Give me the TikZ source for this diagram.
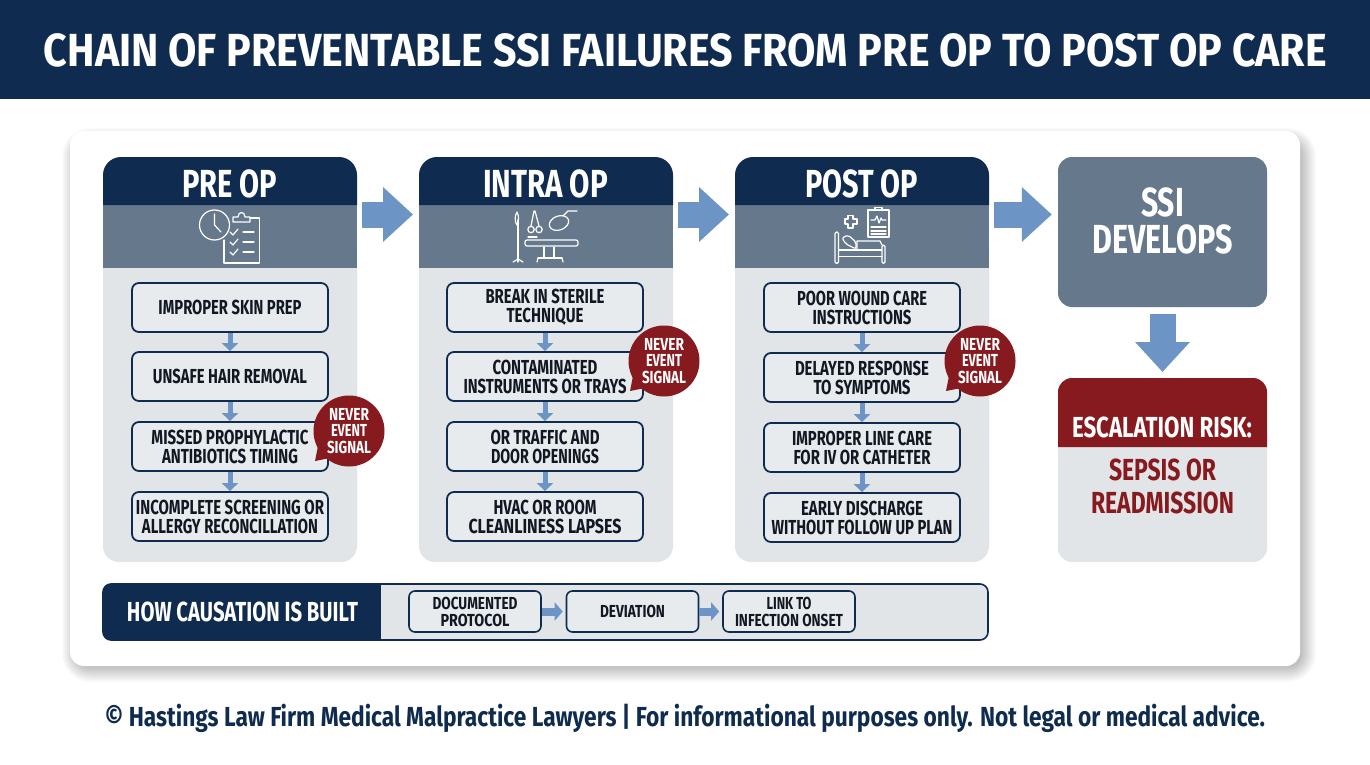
\documentclass[tikz,border=0pt]{standalone}
\usepackage{fontspec}
\usepackage{graphicx}
\setmainfont{Fira Sans}
\usetikzlibrary{arrows.meta}
\definecolor{navy}{HTML}{0F2C50}
\definecolor{band}{HTML}{66788C}
\definecolor{pale}{HTML}{E1E5E8}
\definecolor{boxfill}{HTML}{E8EBEE}
\definecolor{flow}{HTML}{6C95C5}
\definecolor{crimson}{HTML}{871A1E}
\definecolor{ink}{HTML}{111822}
% width, cap height, text: one line set to the measured width
\newcommand\tl[3]{\resizebox{#1pt}{\height}{\fontsize{\fpeval{#2*1.45}pt}{\fpeval{#2*1.6}pt}\selectfont\bfseries #3}}
% left, top, right, bottom, radius: a panel with rounded top corners only
\newcommand\toppanel[6]{\fill[#1] (#2,#5) -- (#2,#3+#6) .. controls (#2,#3+.45*#6) and (#2+.45*#6,#3) .. (#2+#6,#3) -- (#4-#6,#3) .. controls (#4-.45*#6,#3) and (#4,#3+.45*#6) .. (#4,#3+#6) -- (#4,#5) -- cycle;}
\tikzset{
  itembox/.style={draw=navy,line width=1.8pt,fill=boxfill,rounded corners=7pt,minimum width=196pt,minimum height=49pt,inner sep=0pt,text=ink,align=center,font=\fontsize{14pt}{19pt}\selectfont},
  smallbox/.style={draw=navy,line width=1.6pt,fill=boxfill,rounded corners=6pt,minimum width=132pt,minimum height=41pt,inner sep=0pt,text=ink,align=center,font=\fontsize{12pt}{17pt}\selectfont},
  bubble/.style={circle,fill=crimson,minimum size=71pt,inner sep=0pt,text=white,align=center,font=\fontsize{12pt}{16.5pt}\selectfont},
  bigarrow/.style={draw=flow,line width=26pt,-{Triangle[length=30pt,width=53pt]}},
  itemarrow/.style={draw=flow,line width=5pt,-{Triangle[length=8pt,width=16pt]}},
  bararrow/.style={draw=flow,line width=8pt,-{Triangle[length=8pt,width=18pt]}},
  icon/.style={draw=white,line width=1.2pt,line cap=round,line join=round},
  label/.style={inner sep=0pt,text=white,align=center},
}
\begin{document}
\begin{tikzpicture}[x=1pt,y=-1pt]
\useasboundingbox (0,0) rectangle (1370,765);
\fill[white] (0,0) rectangle (1370,765);
% header
\fill[navy] (0,0) rectangle (1370,99);
\node[label] (title) at (685.5,50) {\tl{1283}{32}{CHAIN OF PREVENTABLE SSI FAILURES FROM PRE OP TO POST OP CARE}};
% card with soft shadow
\foreach \g in {14,13,...,-3}{
  \fill[black,opacity=.016,rounded corners=14pt+\g] (76-\g,142-\g) rectangle (1302+\g,668+\g);
}
\fill[white,rounded corners=14pt] (70,131) rectangle (1300,666);
% columns
\foreach \x in {103,419,735}{
  \fill[pale,rounded corners=16pt] (\x,230) rectangle (\x+254,562);
  \fill[band] (\x,205) rectangle (\x+254,268);
  \toppanel{navy}{\x}{157}{\x+254}{205}{18}
}
\coordinate (colaE) at (357,214.5);
\coordinate (colbW) at (419,214.5);
\coordinate (colbE) at (673,214.5);
\coordinate (colcW) at (735,214.5);
\coordinate (colcE) at (989,214.5);
\node[label] (preop) at (229.5,184) {\tl{95}{27}{PRE OP}};
\node[label] (intraop) at (545.5,184) {\tl{125}{27}{INTRA OP}};
\node[label] (postop) at (861.5,184) {\tl{113}{27}{POST OP}};
% icon 1: clock and checklist
\draw[icon] (214.5,225) circle (15);
\draw[icon] (214.5,214) -- (214.5,225) -- (221,232);
\draw[icon] (224,240) -- (224,263) -- (259.5,263) -- (259.5,218) -- (250,218);
\draw[icon] (233,222) -- (233,217) -- (238,217) .. controls (238,211) and (245,211) .. (245,217) -- (250,217) -- (250,222) -- cycle;
\foreach \y in {232,242,252}{
  \draw[icon] (230,\y) -- (233,\y+3) -- (238,\y-3);
  \draw[icon] (243,\y) -- (254,\y);
}
% icon 2: operating room
\draw[icon] (518,220) -- (518,262);
\draw[icon] (513,262) -- (518,259) -- (523,262);
\draw[icon] (517,212) .. controls (514,217) and (515,222) .. (517,225) .. controls (519,220) and (519,216) .. (517,212);
\draw[icon] (534,211) -- (531,226) (535,211) -- (539,226);
\draw[icon] (531,229.5) circle (3.2) (539,229.5) circle (3.2);
\draw[icon,rotate around={20:(559,223)}] (559,223) ellipse (10 and 7);
\draw[icon] (563,216) -- (568,211) -- (577,211);
\draw[icon,rounded corners=2pt] (525,240) rectangle (578,246);
\draw[icon] (528,237) -- (537,237);
\draw[icon] (544,247) -- (544,258) (554,247) -- (554,258);
\draw[icon] (538,258) -- (562,258);
\draw[icon] (538,258) -- (537,262) (562,258) -- (563,262);
% icon 3: bed, cross and chart
\draw[icon] (848,219) -- (848,215.5) -- (853,215.5) -- (853,219) -- (857,219) -- (857,224) -- (853,224) -- (853,228) -- (848,228) -- (848,224) -- (845,224) -- (845,219) -- cycle;
\draw[icon] (868,210) rectangle (889,237);
\draw[icon] (875,210) -- (875,207.5) -- (882,207.5) -- (882,210);
\draw[icon] (871,220) -- (875,220) -- (877,216) -- (879,223) -- (881,218) -- (882,220) -- (886,220);
\foreach \y in {227,231,234}{\draw[icon] (871,\y) -- (886,\y);}
\draw[icon,rounded corners=1.5pt] (835,232) rectangle (838.5,263.5);
\draw[icon,rounded corners=1.5pt] (882,245) rectangle (885,263.5);
\draw[icon] (838.5,250) -- (882,250) (838.5,256.5) -- (882,256.5);
\draw[icon] (857,241) -- (880,241) -- (882,245) (857,241) -- (857,250);
\draw[icon,rounded corners=2pt] (842,238) -- (848,235) -- (856,242) -- (856,249) -- (846,244) -- cycle;
% items, column 1
\node[itembox] (a1) at (230,307.5) {\tl{143}{14}{IMPROPER SKIN PREP}};
\node[itembox] (a2) at (230,376.5) {\tl{154}{14}{UNSAFE HAIR REMOVAL}};
\node[itembox] (a3) at (230,446.5) {\tl{157}{14}{MISSED PROPHYLACTIC}\\\tl{136}{14}{ANTIBIOTICS TIMING}};
\node[itembox] (a4) at (230,516.5) {\tl{188}{14}{INCOMPLETE SCREENING OR}\\\tl{176}{14}{ALLERGY RECONCILLATION}};
% items, column 2
\node[itembox] (b1) at (545,307.5) {\tl{119}{14}{BREAK IN STERILE}\\\tl{77}{14}{TECHNIQUE}};
\node[itembox] (b2) at (545,376.5) {\tl{105}{14}{CONTAMINATED}\\\tl{163}{14}{INSTRUMENTS OR TRAYS}};
\node[itembox] (b3) at (545,446.5) {\tl{109}{14}{OR TRAFFIC AND}\\\tl{108}{14}{DOOR OPENINGS}};
\node[itembox] (b4) at (545,516.5) {\tl{103}{14}{HVAC OR ROOM}\\\tl{153}{14}{CLEANLINESS LAPSES}};
% items, column 3
\node[itembox] (c1) at (862,307.5) {\tl{130}{14}{POOR WOUND CARE}\\\tl{99}{14}{INSTRUCTIONS}};
\node[itembox] (c2) at (862,377.5) {\tl{134}{14}{DELAYED RESPONSE}\\\tl{97}{14}{TO SYMPTOMS}};
\node[itembox] (c3) at (862,447.5) {\tl{140}{14}{IMPROPER LINE CARE}\\\tl{137}{14}{FOR IV OR CATHETER}};
\node[itembox] (c4) at (862,517.5) {\tl{122}{14}{EARLY DISCHARGE}\\\tl{181}{14}{WITHOUT FOLLOW UP PLAN}};
\foreach \n in {a,b,c}{
  \draw[itemarrow] (\n1) -- (\n2);
  \draw[itemarrow] (\n2) -- (\n3);
  \draw[itemarrow] (\n3) -- (\n4);
}
% big arrows
\draw[bigarrow,shorten <=5pt,shorten >=6pt] (colaE) -- (colbW);
\draw[bigarrow,shorten <=5pt,shorten >=6pt] (colbE) -- (colcW);
\node[fill=band,rounded corners=14pt,minimum width=209pt,minimum height=150pt,inner sep=0pt] (ssi) at (1162.5,232) {};
\node[label,font=\fontsize{30pt}{37pt}\selectfont] (ssitext) at (1162.5,221) {\tl{43}{28}{SSI}\\\tl{140}{28}{DEVELOPS}};
\draw[bigarrow,shorten <=5pt,shorten >=6pt] (colcE) -- (ssi.west|-colcE);
% escalation
\fill[pale,rounded corners=14pt] (1058,420) rectangle (1267,562);
\toppanel{crimson}{1058}{378}{1267}{447}{14}
\coordinate (esc) at (1162.5,378);
\node[label] (risk) at (1162,427) {\tl{180}{20}{ESCALATION RISK:}};
\node[label,text=crimson,font=\fontsize{22pt}{33pt}\selectfont] (sepsis) at (1162.5,486) {\tl{107}{21}{SEPSIS OR}\\\tl{143}{21}{READMISSION}};
\draw[bigarrow,shorten <=7pt,shorten >=6pt] (ssi) -- (esc);
% never event bubbles
\fill[crimson] (318,446) -- (315,461) -- (330,458) -- cycle;
\node[bubble] (n1) at (349,431) {\tl{40}{12}{NEVER}\\\tl{36}{12}{EVENT}\\\tl{44}{12}{SIGNAL}};
\fill[crimson] (633,376) -- (630,391) -- (645,388) -- cycle;
\node[bubble] (n2) at (664,361) {\tl{40}{12}{NEVER}\\\tl{36}{12}{EVENT}\\\tl{44}{12}{SIGNAL}};
\fill[crimson] (949,376) -- (946,391) -- (961,388) -- cycle;
\node[bubble] (n3) at (980,361) {\tl{40}{12}{NEVER}\\\tl{36}{12}{EVENT}\\\tl{44}{12}{SIGNAL}};
% causation bar
\fill[pale,rounded corners=8pt] (300,584) rectangle (988,640);
\fill[navy,rounded corners=8pt] (200,584) rectangle (103,640);
\fill[navy] (150,584) rectangle (381,640);
\draw[navy,line width=1.6pt,rounded corners=8pt] (103,584) rectangle (988,640);
\node[label] (how) at (242.5,612) {\tl{231}{19}{HOW CAUSATION IS BUILT}};
\node[smallbox] (s1) at (475,611.5) {\tl{85}{12}{DOCUMENTED}\\\tl{69}{12}{PROTOCOL}};
\node[smallbox] (s2) at (632.5,611.5) {\tl{65}{12}{DEVIATION}};
\node[smallbox] (s3) at (789,611.5) {\tl{45}{12}{LINK TO}\\\tl{108}{12}{INFECTION ONSET}};
\draw[bararrow,shorten >=3pt] (s1) -- (s2);
\draw[bararrow,shorten >=3pt] (s2) -- (s3);
% footer
\node[inner sep=0pt,text=navy] (foot) at (685,718) {\tl{1160}{19}{© Hastings Law Firm Medical Malpractice Lawyers | For informational purposes only. Not legal or medical advice.}};
\end{tikzpicture}
\end{document}
